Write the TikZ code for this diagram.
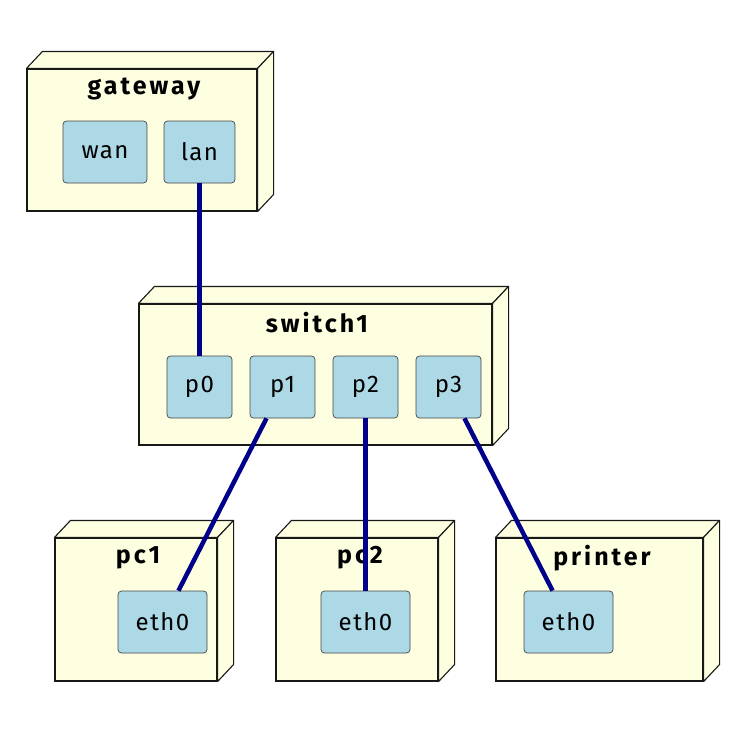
\documentclass[tikz,border=0pt]{standalone}
\usepackage{fontspec}
\setmainfont{Fira Sans}
\newfontfamily\portfont[LetterSpace=6]{Fira Sans}
\newfontfamily\lblfont[LetterSpace=12]{Fira Sans}
\definecolor{nodefill}{HTML}{FEFEE0}
\definecolor{portfill}{HTML}{ADD8E6}
\definecolor{linkblue}{HTML}{00008B}
\definecolor{edge}{HTML}{181818}
\tikzset{
  devbox/.style={draw=edge, fill=nodefill, line width=1.1pt, inner sep=0pt},
  devside/.style={draw=edge, fill=nodefill, line width=1.1pt, line join=round},
  port/.style={draw=edge!80, fill=portfill, rounded corners=3.5pt, line width=0.7pt, inner sep=0pt, font=\portfont\fontsize{24}{28}\selectfont, minimum height=62pt},
  title/.style={font=\lblfont\bfseries\fontsize{25}{30}\selectfont, inner sep=0pt},
  link/.style={draw=linkblue, line width=4.5pt}
}
\newcommand{\devicebox}[5]{%
  \node[devbox, minimum width=#4pt, minimum height=#5pt] (#1) at (#2+#4/2,#3+#5/2) {};
  \draw[devside] (#1.north west) -- ++(16,-17) -- ([shift={(16,-17)}]#1.north east) -- (#1.north east) -- cycle;
  \draw[devside] (#1.north east) -- ++(16,-17) -- ([shift={(16,-17)}]#1.south east) -- (#1.south east) -- cycle;
}
\begin{document}
\begin{tikzpicture}[x=1pt,y=-1pt]
\useasboundingbox (0,0) rectangle (750,750);
\devicebox{gateway}{27}{69}{230}{142}
\devicebox{switch}{139}{304}{353}{141}
\devicebox{pcone}{55}{538}{162}{143}
\devicebox{pctwo}{276}{538}{162}{143}
\devicebox{printer}{496}{538}{207}{143}

\node[title] (tgw) at (144,89) {gateway};
\node[title] (tsw) at (317,323) {switch1};
\node[title] (tpc1) at (138,558) {pc1};
\node[title] (tpc2) at (360,558) {pc2};
\node[title] (tpr) at (602,558) {printer};

\node[port, minimum width=84pt] (wan) at (105,152) {wan};
\node[port, minimum width=71pt] (lan) at (199.5,152) {lan};
\node[port, minimum width=65pt] (p0) at (199.5,387) {p0};
\node[port, minimum width=65pt] (p1) at (282.5,387) {p1};
\node[port, minimum width=65pt] (p2) at (365.5,387) {p2};
\node[port, minimum width=65pt] (p3) at (448.5,387) {p3};
\node[port, minimum width=89pt] (e1) at (162.5,622) {eth0};
\node[port, minimum width=89pt] (e2) at (365.5,622) {eth0};
\node[port, minimum width=89pt] (e3) at (568.5,622) {eth0};

\draw[link] (lan) -- (p0);
\draw[link] (p1) -- (e1);
\draw[link] (p2) -- (e2);
\draw[link] (p3) -- (e3);
\end{tikzpicture}
\end{document}
